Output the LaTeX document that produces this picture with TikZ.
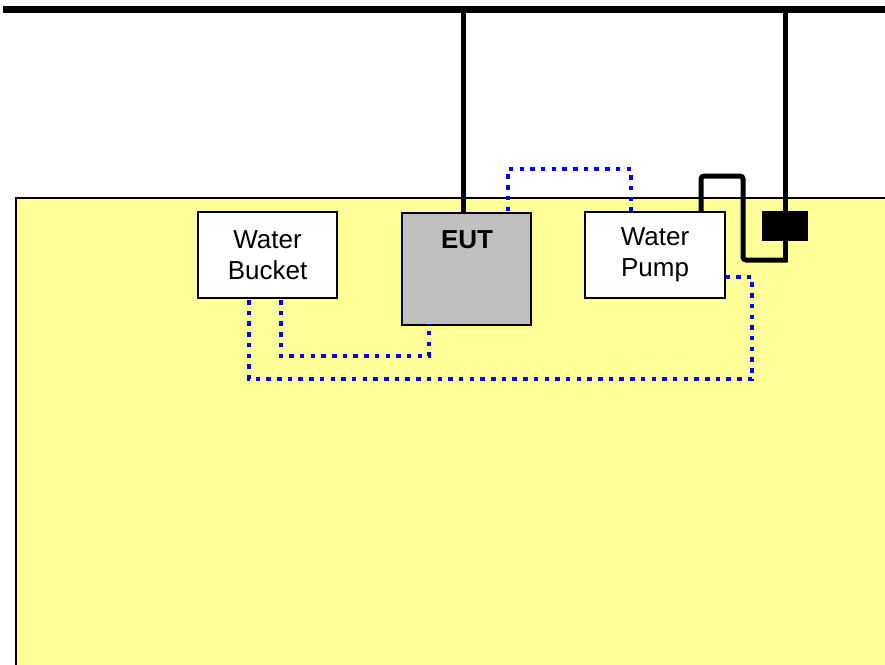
\documentclass[tikz,border=0pt]{standalone}
\usepackage{fontspec}
\setmainfont{Liberation Sans}
\definecolor{bgyellow}{HTML}{FFFF99}
\definecolor{eutgray}{HTML}{C0C0C0}
\definecolor{hoseblue}{HTML}{0000FF}
\begin{document}
\begin{tikzpicture}[x=1pt,y=-1pt,
  box/.style={draw=black,line width=1.5pt,fill=white,minimum width=#1,inner sep=0pt,align=center,font=\fontsize{26}{31}\selectfont},
  cable/.style={draw=black,line width=5pt,rounded corners=3pt},
  hose/.style={draw=hoseblue,line width=4.5pt,dash pattern=on 4.5pt off 6.2pt}]
\useasboundingbox (0,0) rectangle (885,664);
% yellow area
\fill[bgyellow,draw=black,line width=1.5pt] (16,198) rectangle (892,670);
% top bus
\coordinate (busL) at (3,9.5);
\coordinate (busR) at (885,9.5);
\draw[black,line width=7pt] (busL) -- (busR);
% nodes
\node[box=139pt,minimum height=86pt] (bucket) at (267.5,255) {Water\\Bucket};
\node[box=129pt,minimum height=112pt,fill=eutgray,anchor=north] (eut) at (466.5,212) {};
\node[font=\fontsize{26}{31}\selectfont\bfseries] (eutlabel) at (467,240) {EUT};
\node[box=140pt,minimum height=86pt] (pump) at (655,255) {Water\\Pump};
\coordinate (dropA) at (463,12);
\coordinate (dropB) at (785,12);
% cables
\draw[cable] (dropA) -- (dropA |- eut.north);
\coordinate (cordStart) at (701,212);
\draw[cable] (cordStart) -- (701,176) -- (743,176) -- (743,260) -- (787.5,260);
\draw[black,line width=5pt] (dropB) -- (785,262);
\node[fill=black,minimum width=46pt,minimum height=30pt,inner sep=0pt] (plug) at (785,226) {};
% hoses
\coordinate (h1a) at (281,300);
\coordinate (h1b) at (429,324);
\draw[hose] (h1a) -- (281,356) -- (429,356) -- (h1b);
\coordinate (h2a) at (249,300);
\coordinate (h2b) at (726,277);
\draw[hose] (h2a) -- (249,379) -- (752,379) -- (752,277) -- (h2b);
\coordinate (h3a) at (508,211);
\coordinate (h3b) at (631,211);
\draw[hose] (h3a) -- (508,169) -- (631,169) -- (h3b);
\end{tikzpicture}
\end{document}
